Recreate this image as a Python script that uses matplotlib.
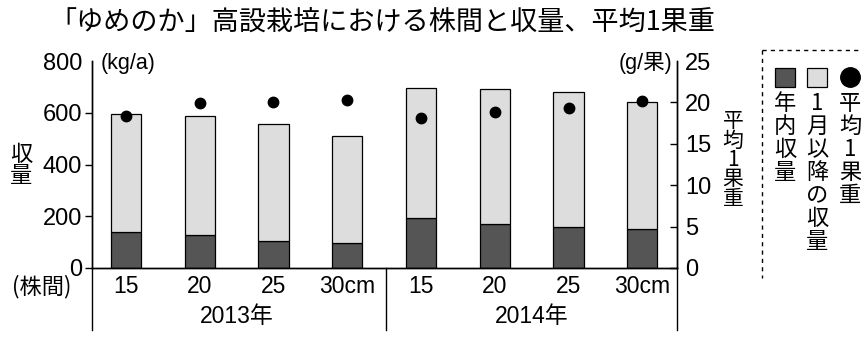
"""
「ゆめのか」高設栽培における株間と収量、平均1果重
"""
import numpy as np
import matplotlib
matplotlib.use("Agg")
import matplotlib.pyplot as plt
from matplotlib.lines import Line2D
from matplotlib.patches import Rectangle
import matplotlib.transforms as mtransforms

plt.rcParams['font.family'] = ['Noto Sans CJK JP', 'DejaVu Sans']
num_font = ['Liberation Sans', 'Noto Sans CJK JP']  # Helvetica-like digits

# data
spacing = ["15", "20", "25", "30cm", "15", "20", "25", "30cm"]
years = ["2013年", "2014年"]
yield_in_year = [138, 126, 105, 95, 195, 170, 160, 150]      # 年内収量 (kg/a)
yield_total = [595, 586, 555, 511, 697, 690, 679, 641]       # 年内 + 1月以降 (kg/a)
fruit_weight = [18.3, 19.9, 20.1, 20.3, 18.1, 18.9, 19.3, 20.2]  # 平均1果重 (g/果)

dark = "#555555"
light = "#dddddd"

yield_after = [t - a for t, a in zip(yield_total, yield_in_year)]
x = np.arange(len(spacing))

fig = plt.figure(figsize=(8.62, 3.38), dpi=100)
ax = fig.add_axes([92/862, 70/338, 585/862, 207/338])
ax2 = ax.twinx()

#bars
w = 0.41
ax.bar(x, yield_in_year, w, color=dark, edgecolor="black", linewidth=0.9, zorder=2)
ax.bar(x, yield_after, w, bottom=yield_in_year, color=light, edgecolor="black", linewidth=0.9, zorder=2)
ax2.plot(x, fruit_weight, "o", color="black", markersize=7.5, zorder=3, clip_on=False)

ax.set_xlim(-0.46, 7.47)
ax.set_ylim(0, 800)
ax2.set_ylim(0, 25)

#left axis
ax.set_yticks([0, 200, 400, 600, 800])
ax.tick_params(axis="y", direction="out", length=5, width=1, labelsize=17, pad=2)
ax.yaxis.get_major_ticks()[-1].tick1line.set_visible(False)
ax.set_yticks([800], minor=True)
ax.tick_params(axis="y", which="minor", direction="in", length=5, width=1)
#right axis
ax2.set_yticks([0, 5, 10, 15, 20, 25])
ax2.tick_params(axis="y", direction="in", length=5, width=1, labelsize=17, pad=6)
ax2.yaxis.get_major_ticks()[-1].tick2line.set_visible(False)
ax2.set_yticks([25], minor=True)
ax2.tick_params(axis="y", which="minor", direction="in", length=5, width=1)

ax.set_xticks(x)
ax.set_xticklabels(spacing)
ax.tick_params(axis="x", length=0, labelsize=16.5, pad=5)

for lab in ax.get_yticklabels() + ax2.get_yticklabels() + ax.get_xticklabels():
    lab.set_family(num_font)

for a in (ax, ax2):
    a.spines["top"].set_visible(False)
    for s in ("left", "right", "bottom"):
        a.spines[s].set_linewidth(1)

#lines below the axis for the year groups
tr = mtransforms.blended_transform_factory(ax.transData, ax.transAxes)
for xv in (-0.46, 3.52, 7.47):
    ax.add_line(Line2D([xv, xv], [0, -0.30], transform=tr, color="black", linewidth=1, clip_on=False))
ax.text(1.5, -0.235, years[0], transform=tr, ha="center", va="center", fontsize=16.5, family=num_font)
ax.text(5.5, -0.235, years[1], transform=tr, ha="center", va="center", fontsize=16.5, family=num_font)

#labels
fig.text(42/862, 1 - 287/338, "(株間)", ha="center", va="center", fontsize=16)
fig.text(101/862, 1 - 63/338, "(kg/a)", ha="left", va="center", fontsize=15.5, family=num_font)
fig.text(672/862, 1 - 63/338, "(g/果)", ha="right", va="center", fontsize=15.5, family=num_font)
fig.text(21/862, 1 - 165/338, "収\n量", ha="center", va="center", fontsize=16, linespacing=0.85)
fig.text(733/862, 1 - 160/338, "平\n均\n1\n果\n重", ha="center", va="center", fontsize=15, linespacing=0.85)

fig.text(382/862, 1 - 22/338, "「ゆめのか」高設栽培における株間と収量、平均1果重",
         ha="center", va="center", fontsize=19.5)

#legend box
ft = fig.transFigure
fig.add_artist(Line2D([762/862, 1.0], [1 - 50/338, 1 - 50/338], transform=ft,
                      color="black", linewidth=1, linestyle=(0, (3, 3))))
fig.add_artist(Line2D([762/862, 762/862], [1 - 50/338, 1 - 278/338], transform=ft,
                      color="black", linewidth=1, linestyle=(0, (3, 3))))
fig.add_artist(Rectangle((775/862, 1 - 87/338), 20/862, 19/338, transform=ft,
                         facecolor=dark, edgecolor="black", linewidth=0.9))
fig.add_artist(Rectangle((807/862, 1 - 87/338), 20/862, 19/338, transform=ft,
                         facecolor=light, edgecolor="black", linewidth=0.9))
fig.add_artist(Line2D([850/862], [1 - 77/338], transform=ft, marker="o",
                      markersize=14, color="black", linestyle="none"))
fig.text(785/862, 1 - 92/338, "年\n内\n収\n量", ha="center", va="top", fontsize=16, linespacing=1.0)
fig.text(817/862, 1 - 92/338, "1\n月\n以\n降\nの\n収\n量", ha="center", va="top", fontsize=16, linespacing=1.0)
fig.text(850/862, 1 - 92/338, "平\n均\n1\n果\n重", ha="center", va="top", fontsize=16, linespacing=1.0)

fig.savefig("out.png", dpi=100, facecolor="white")
